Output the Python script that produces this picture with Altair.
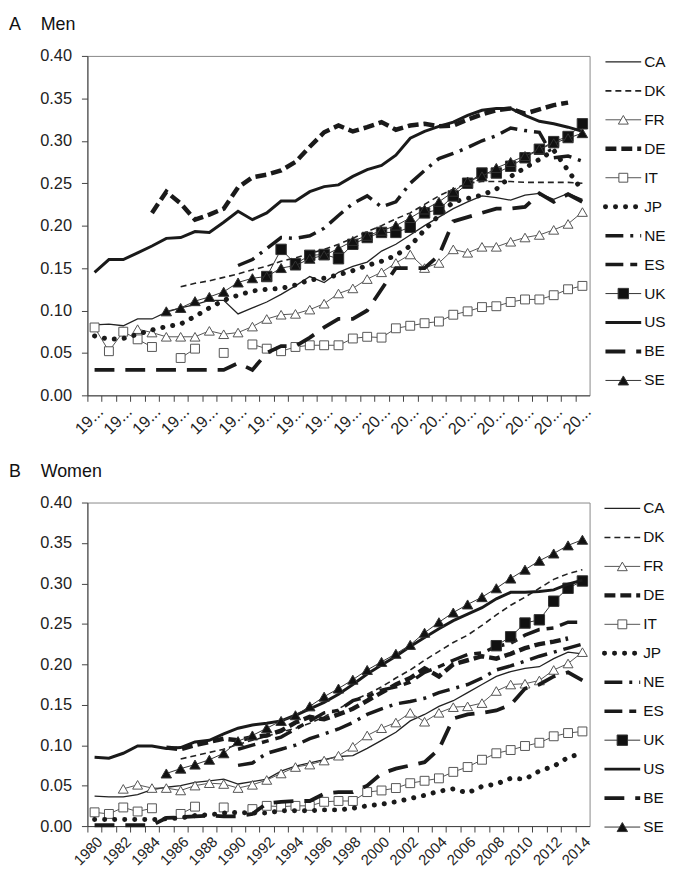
import altair as alt
import pandas as pd

FONT = "Liberation Sans"
N = None

YEARS = list(range(1980, 2015))
COUNTRIES = ["CA", "DK", "FR", "DE", "IT", "JP", "NE", "ES", "UK", "US", "BE", "SE"]

# ---------------- Men (panel A) ----------------
MEN_CA = [.083, .084, .082, .090, .090, .098, .103, .107, .112, .112,
          .096, .103, .110, .119, .129, .140, .133, .145, .152, .157,
          .170, .178, .189, .200, .210, .220, .228, .235, .233, .230,
          .236, .238, .231, .238, .231]
MEN_DK = [N, N, N, N, N, N, .128, .132, .135, .139,
          .143, .148, .152, .158, .162, .167, .172, .178, .185, .193,
          .200, .208, .215, .225, .235, .243, .250, .252, .252, .252,
          .251, .251, .251, .251, .250]
MEN_FR = [N, N, N, .078, .074, .069, .069, .069, .076, .072,
          .074, .081, .090, .095, .096, .101, .108, .120, .126, .137,
          .145, .156, .166, .150, .156, .172, .168, .175, .175, .181,
          .186, .189, .195, .202, .216]
MEN_DE = [N, N, N, N, .215, .240, .226, .207, .213, .220,
          .245, .257, .260, .265, .275, .293, .310, .318, .311, .316,
          .322, .313, .318, .320, .317, .318, .325, .331, .336, .338,
          .332, .337, .342, .345, N]
MEN_IT = [.080, .052, .075, .066, .057, N, .044, .055, N, .050,
          N, .060, .055, .052, .057, .059, .059, .059, .067, .069,
          .068, .079, .082, .085, .087, .095, .099, .104, .105, .110,
          .113, .113, .118, .125, .129]
MEN_JP = [.070, .066, .067, .072, .077, .081, .084, .093, .103, .112,
          .118, .123, .125, .126, .130, .136, .138, .142, .147, .153,
          .158, .165, .176, .195, .212, .228, .232, .236, .243, .258,
          .268, .278, .289, .265, .241]
MEN_NE = [N, N, N, N, N, N, N, N, N, N,
          .153, .160, .173, .186, .185, .188, .197, .212, .226, .235,
          .222, .228, .250, .265, .279, .285, .292, .300, .306, .315,
          .312, .310, .280, .282, .276]
MEN_ES = [N] * 35
MEN_UK = [N, N, N, N, N, N, N, N, N, N,
          N, N, .140, .172, .155, .165, .166, .161, .178, .186,
          .192, .192, .198, .215, .219, .235, .250, .262, .262, .270,
          .280, .290, .299, .305, .320]
MEN_US = [.145, .160, .160, .168, .176, .185, .186, .193, .192, .204,
          .217, .207, .215, .229, .229, .240, .246, .248, .258, .266,
          .271, .283, .303, .311, .317, .322, .330, .336, .338, .338,
          .330, .323, .320, .316, .311]
MEN_BE = [.030, .030, .030, .030, .030, .030, .030, .030, .030, .030,
          .038, .030, .050, .058, .058, .068, .080, .090, .090, .100,
          .125, .150, .150, .150, .165, .205, .210, .215, .220, .220,
          .222, .238, .228, .237, .228]
MEN_SE = [N, N, N, N, N, .099, .103, .111, .116, .122,
          .133, .138, .140, .150, .153, .161, .165, .173, .182, .188,
          .194, .200, .209, .219, .228, .240, .252, .258, .268, .275,
          .282, .290, .297, .303, .309]

# ---------------- Women (panel B) ----------------
WOM_CA = [.037, .036, .036, .039, .045, .048, .050, .054, .056, .058,
          .052, .055, .058, .068, .074, .078, .082, .086, .087, .096,
          .106, .116, .130, .138, .148, .155, .165, .175, .185, .191,
          .195, .197, .207, .215, .213]
WOM_DK = [N, N, N, N, N, N, .083, .087, .091, .095,
          .101, .106, .111, .116, .121, .127, .135, .145, .155, .163,
          .172, .183, .193, .205, .216, .227, .236, .248, .261, .273,
          .283, .294, .305, .312, .317]
WOM_FR = [N, N, .046, .051, .047, .047, .044, .050, .053, .052,
          .047, .051, .057, .065, .073, .076, .081, .087, .098, .112,
          .121, .128, .140, .129, .140, .147, .148, .152, .167, .175,
          .176, .180, .193, .201, .215]
WOM_DE = [N, N, N, N, N, .097, .095, .100, .104, .108,
          .106, .110, .112, .118, .128, .135, .132, .138, .145, .155,
          .165, .175, .183, .195, .185, .200, .205, .210, .207, .213,
          .220, .225, .228, .232, N]
WOM_IT = [.017, .015, .023, .018, .022, N, .015, .024, N, .023,
          N, .021, .025, .024, .025, .025, .030, .031, .031, .042,
          .044, .047, .053, .056, .059, .067, .073, .082, .090, .094,
          .099, .103, .111, .115, .117]
WOM_JP = [.008, .008, .008, .008, .008, .009, .010, .013, .014, .016,
          .017, .016, .016, .019, .019, .019, .020, .020, .022, .025,
          .027, .030, .034, .038, .043, .046, .041, .049, .052, .059,
          .058, .068, .074, .085, .090]
WOM_NE = [N, N, N, N, N, N, N, N, N, N,
          .075, .078, .090, .095, .100, .108, .114, .120, .128, .138,
          .145, .151, .154, .158, .165, .170, .175, .183, .193, .198,
          .204, .210, .215, .220, .225]
WOM_ES = [N, N, N, N, N, N, N, N, N, N,
          .095, .100, .105, .110, .120, .130, .140, .143, .155, .160,
          .168, .172, .178, .190, .197, .205, .212, .214, .222, .226,
          .236, .243, .245, .252, .252]
WOM_UK = [N] * 28 + [.223, .234, .251, .255, .278, .294, .303]
WOM_US = [.085, .084, .090, .099, .099, .096, .097, .104, .106, .114,
          .121, .125, .127, .130, .137, .145, .153, .163, .175, .188,
          .199, .210, .222, .233, .244, .254, .262, .270, .281, .289,
          .289, .290, .292, .299, .304]
WOM_BE = [.001, .001, .001, .001, .001, .010, .011, .012, .013, .012,
          .012, .015, .028, .030, .031, .031, .040, .042, .042, .050,
          .065, .071, .075, .079, .095, .133, .138, .140, .143, .150,
          .170, .175, .185, .190, .180]
WOM_SE = [N, N, N, N, N, .065, .071, .076, .082, .090,
          .105, .112, .121, .130, .137, .148, .160, .170, .181, .193,
          .203, .213, .224, .239, .252, .264, .274, .283, .294, .306,
          .317, .328, .337, .347, .354]

MEN = dict(CA=MEN_CA, DK=MEN_DK, FR=MEN_FR, DE=MEN_DE, IT=MEN_IT, JP=MEN_JP,
           NE=MEN_NE, ES=MEN_ES, UK=MEN_UK, US=MEN_US, BE=MEN_BE, SE=MEN_SE)
WOMEN = dict(CA=WOM_CA, DK=WOM_DK, FR=WOM_FR, DE=WOM_DE, IT=WOM_IT, JP=WOM_JP,
             NE=WOM_NE, ES=WOM_ES, UK=WOM_UK, US=WOM_US, BE=WOM_BE, SE=WOM_SE)

Y_TICKS = [0.0, 0.05, 0.10, 0.15, 0.20, 0.25, 0.30, 0.35, 0.40]
# tick marks on the year boundaries (the right end is the plot border)
X_TICKS = [y - 0.5 for y in YEARS]

STYLE = {
    "CA": dict(w=1.3, color="#222"),
    "DK": dict(w=1.6, dash=[6, 4], color="#222"),
    "FR": dict(w=1.0, color="#555", shape="triangle-up", fill="white", size=100),
    "DE": dict(w=4.5, dash=[11, 5], color="#1a1a1a"),
    "IT": dict(w=1.0, color="#555", shape="square", fill="white", size=80),
    "JP": dict(w=5.0, dash=[0.1, 10], cap="round", color="#1a1a1a"),
    "NE": dict(w=3.5, dash=[18, 7, 3, 7], color="#1a1a1a"),
    "ES": dict(w=3.5, dash=[18, 7, 7, 7], color="#1a1a1a"),
    "UK": dict(w=1.0, color="#333", shape="square", fill="#111", size=110),
    "US": dict(w=3.0, color="#1a1a1a"),
    "BE": dict(w=3.8, dash=[20, 11], color="#1a1a1a"),
    "SE": dict(w=1.0, color="#333", shape="triangle-up", fill="#111", size=110),
}


def frame(panel):
    rows = []
    for c in COUNTRIES:
        seg, prev = 0, False
        for yr, v in zip(YEARS, panel[c]):
            if v is None:
                if prev:
                    seg += 1
                prev = False
                continue
            rows.append(dict(country=c, year=yr, value=v, seg=seg))
            prev = True
    return pd.DataFrame(rows)


def line_props(st):
    kw = dict(strokeWidth=st["w"], color=st.get("color", "#1a1a1a"))
    if st.get("dash"):
        kw["strokeDash"] = st["dash"]
    if st.get("cap"):
        kw["strokeCap"] = st["cap"]
    return kw


def point_props(st):
    return dict(shape=st["shape"], filled=True, fill=st["fill"],
                stroke=st.get("color", "#333"), strokeWidth=1,
                size=st["size"], opacity=1)


def panel(data, title, label_expr, height, xfont):
    df = frame(data)
    X = alt.X("year:Q",
              scale=alt.Scale(domain=[1979.5, 2014.5], nice=False, zero=False),
              axis=alt.Axis(values=X_TICKS, labelExpr=label_expr, labelAngle=-45,
                            labelOffset=7.2, labelPadding=2, tickSize=6,
                            labelFontSize=xfont,
                            labelOverlap=False, labelFlush=False, grid=False),
              title=None)
    Y = alt.Y("value:Q",
              scale=alt.Scale(domain=[0, 0.4], nice=False),
              axis=alt.Axis(values=Y_TICKS, format=".2f", tickSize=6,
                            labelPadding=10, grid=False),
              title=None)
    base = alt.Chart(df)
    layers = []
    for c in COUNTRIES:
        st = STYLE[c]
        sub = base.transform_filter(alt.datum.country == c)
        layers.append(sub.mark_line(**line_props(st)).encode(x=X, y=Y, detail="seg:N"))
        if st.get("shape"):
            layers.append(sub.mark_point(**point_props(st)).encode(x=X, y=Y))
    return alt.layer(*layers).properties(
        width=506, height=height,
        view=alt.ViewBackground(stroke="#888", strokeWidth=1),
        title=alt.TitleParams(text=title, anchor="start", fontSize=18,
                              fontWeight="normal", font=FONT, color="#111",
                              offset=14, dx=-31),
    )


def legend(height):
    ldf = pd.DataFrame({"country": COUNTRIES})
    YL = alt.Y("country:N", sort=COUNTRIES,
               scale=alt.Scale(type="point", domain=COUNTRIES, range=[6, 327], padding=0),
               axis=None)
    layers = []
    for c in COUNTRIES:
        st = STYLE[c]
        sub = alt.Chart(ldf).transform_filter(alt.datum.country == c)
        layers.append(sub.mark_rule(**line_props(st)).encode(
            x=alt.value(2), x2=alt.value(38), y=YL))
        if st.get("shape"):
            layers.append(sub.mark_point(**point_props(st)).encode(x=alt.value(20), y=YL))
    layers.append(alt.Chart(ldf).mark_text(align="left", baseline="middle", fontSize=15.5,
                                           font=FONT, color="#111").encode(
        x=alt.value(41), y=YL, text="country:N"))
    return alt.layer(*layers).properties(width=56, height=height,
                                         view=alt.ViewBackground(strokeWidth=0))


EXPR_A = ("(datum.value + 0.5) % 2 == 0 ? "
          "((datum.value + 0.5) < 2000 ? '19...' : '20...') : ''")
EXPR_B = "(datum.value + 0.5) % 2 == 0 ? toString(datum.value + 0.5) : ''"

rowA = alt.hconcat(panel(MEN, "A\u00a0\u00a0\u00a0\u00a0Men", EXPR_A, 342, 16.5),
                   legend(342), spacing=8)
rowB = alt.hconcat(panel(WOMEN, "B\u00a0\u00a0\u00a0\u00a0Women", EXPR_B, 326, 15),
                   legend(326), spacing=8)

chart = alt.vconcat(rowA, rowB, spacing=24).properties(
    padding={"left": 0, "top": 4, "right": 0, "bottom": 0},
    background="white",
).configure_axis(
    labelFont=FONT, labelFontSize=16.5, labelColor="#222",
    domainColor="#444", tickColor="#444",
).configure_view(strokeWidth=0)

chart.save("out.html", embed_options={"renderer": "svg", "actions": False})
